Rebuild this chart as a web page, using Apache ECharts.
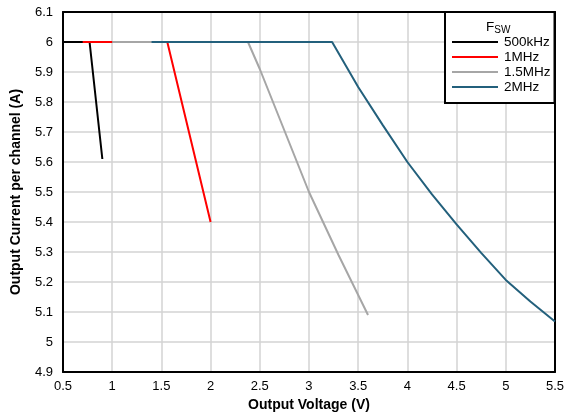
<!DOCTYPE html>
<html><head><meta charset="utf-8">
<script src="https://cdn.jsdelivr.net/npm/echarts@6/dist/echarts.min.js"></script>
<style>html,body{margin:0;padding:0;background:#fff}#c{width:567px;height:419px}</style>
</head><body><div id="c"></div>
<script>
const seriesNames = ['500kHz', '1MHz', '1.5MHz', '2MHz'];
const colors = ['#000000', '#ff0000', '#a6a6a6', '#23607c'];
const data500k = [[0.5, 6], [0.77, 6], [0.9, 5.61]];
const data1M = [[0.7, 6], [1.56, 6], [2.0, 5.4]];
const data1p5M = [[1.0, 6], [2.38, 6], [2.5, 5.91], [3.0, 5.5], [3.3, 5.29], [3.6, 5.09]];
const data2M = [[1.4, 6], [3.235, 6], [3.5, 5.85], [3.75, 5.723], [4.0, 5.6], [4.25, 5.492], [4.5, 5.392], [4.75, 5.297], [5.0, 5.207], [5.25, 5.135], [5.5, 5.068]];
const allData = [data500k, data1M, data1p5M, data2M];

const chart = echarts.init(document.getElementById('c'));
const font = 'Liberation Sans, Arial, sans-serif';
const borderAxis = {axisLine: {show: true, lineStyle: {color: '#000', width: 2}}, axisTick: {show: false}, axisLabel: {show: false}, splitLine: {show: false}};
chart.setOption({
  animation: false,
  textStyle: {fontFamily: font},
  grid: {left: 63, right: 11, top: 12, bottom: 47},
  xAxis: [{
    type: 'value', min: 0.5, max: 5.5, interval: 0.5,
    name: 'Output Voltage (V)', nameLocation: 'middle', nameGap: 26,
    nameTextStyle: {fontFamily: font, fontSize: 14, fontWeight: 'bold', color: '#000'},
    axisLine: {show: true, lineStyle: {color: '#000', width: 2}},
    axisTick: {show: false},
    axisLabel: {color: '#000', fontSize: 13, margin: 8, fontFamily: font},
    splitLine: {show: true, lineStyle: {color: '#d3d3d3', width: 1.5}}
  }, Object.assign({type: 'value', min: 0.5, max: 5.5, position: 'top'}, borderAxis)],
  yAxis: [{
    type: 'value', min: 4.9, max: 6.1, interval: 0.1,
    name: 'Output Current per channel (A)', nameLocation: 'middle', nameGap: 40,
    nameTextStyle: {fontFamily: font, fontSize: 14, fontWeight: 'bold', color: '#000'},
    axisLine: {show: true, lineStyle: {color: '#000', width: 2}},
    axisTick: {show: false},
    axisLabel: {color: '#000', fontSize: 13, margin: 10, fontFamily: font, formatter: v => String(Math.round(v * 10) / 10)},
    splitLine: {show: true, lineStyle: {color: '#d3d3d3', width: 1.5}}
  }, Object.assign({type: 'value', min: 4.9, max: 6.1, position: 'right'}, borderAxis)],
  legend: {
    orient: 'vertical', left: 445, top: 12,
    padding: [23, 4, 9, 7], itemGap: 1, itemWidth: 46, itemHeight: 14,
    backgroundColor: '#fff', borderColor: '#000', borderWidth: 2,
    icon: 'path://M0,6 L46,6 L46,8 L0,8 Z',
    textStyle: {fontFamily: font, fontSize: 13.5, color: '#000', padding: [0, 0, 0, 1]},
    data: seriesNames
  },
  graphic: [{
    type: 'text', left: 486, top: 20, z: 100,
    style: {
      text: '{a|F}{b|SW}',
      rich: {
        a: {fontFamily: font, fontSize: 13.5, fill: '#000'},
        b: {fontFamily: font, fontSize: 10, fill: '#000', padding: [6, 0, 0, 0]}
      }
    }
  }],
  series: allData.map((d, i) => ({
    name: seriesNames[i], type: 'line', data: d, showSymbol: false, symbol: 'none',
    lineStyle: {color: colors[i], width: 2}, itemStyle: {color: colors[i]}, z: 2 + i
  }))
});
</script></body></html>
